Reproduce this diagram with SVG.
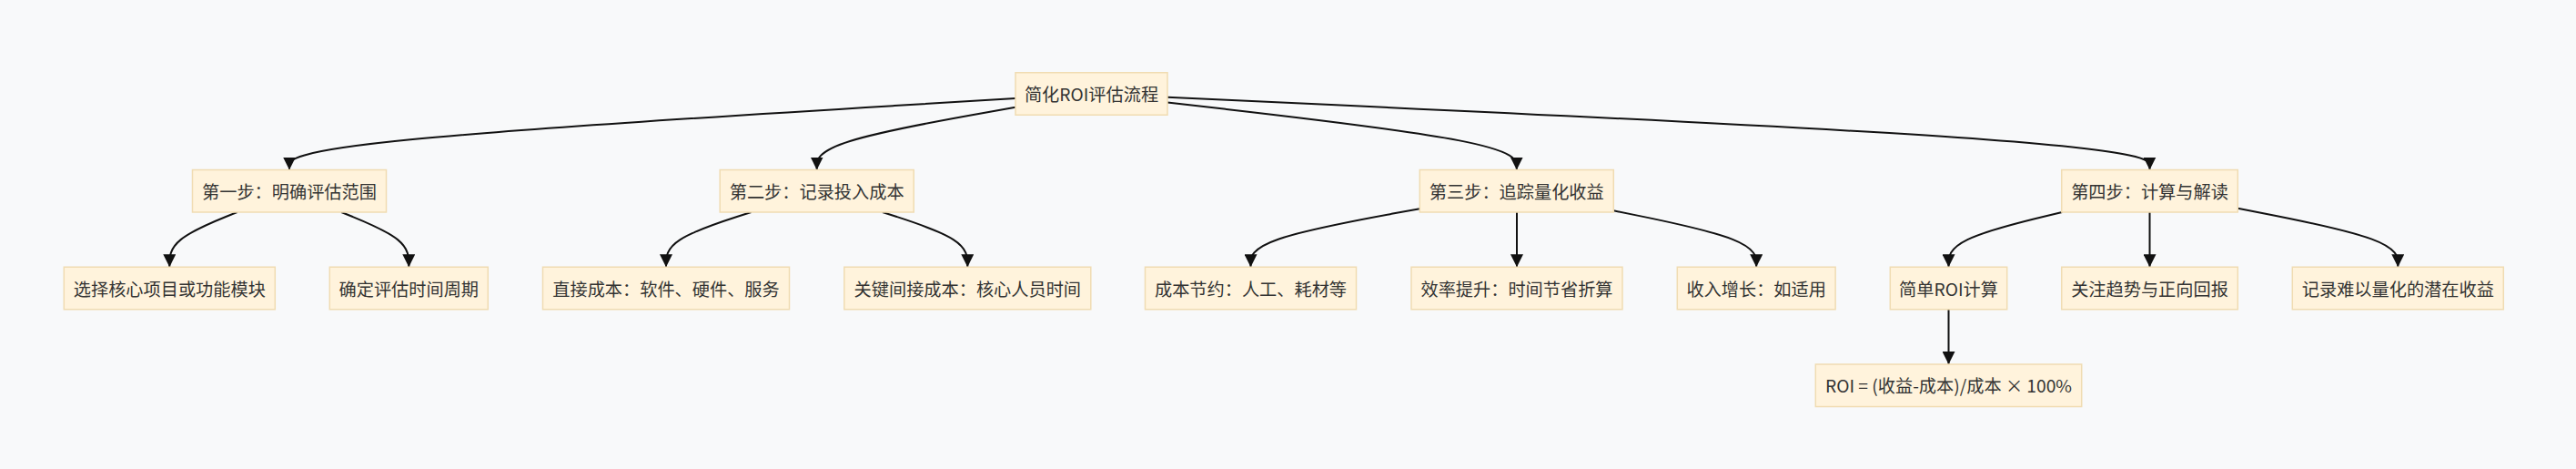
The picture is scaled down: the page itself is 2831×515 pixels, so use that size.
<svg xmlns="http://www.w3.org/2000/svg" width="2831" height="515" viewBox="0 0 2831 515">
<defs>
<style>
.bg{fill:#f8f9fa}
.node rect{fill:#fff3dc;stroke:#f0dcb2;stroke-width:1.5}
.node text{font-family:"Noto Sans CJK SC","Noto Sans",sans-serif;font-size:19.2px;fill:#333;text-anchor:middle;dominant-baseline:central}
.edge{fill:none;stroke:#111;stroke-width:2}
</style>
<marker id="arrow" viewBox="0 0 10 10" refX="10" refY="5" markerUnits="userSpaceOnUse" markerWidth="14" markerHeight="14" orient="auto">
<path d="M0,0 L10,5 L0,10 z" fill="#111"/>
</marker>
</defs>
<rect class="bg" x="0" y="0" width="2831" height="515"/>
<g id="edges">
<path class="edge" marker-end="url(#arrow)" d="M1116,108.06 L983,116.1 C850,124.17 584,140.29 451,153.36 C318,166.43 318,176.47 318,181.48 L318,186.5"/>
<path class="edge" marker-end="url(#arrow)" d="M1116,117.77 L1079.6,124.21 C1043.2,130.65 970.5,143.52 934.1,154.98 C897.7,166.43 897.7,176.47 897.7,181.48 L897.7,186.5"/>
<path class="edge" marker-end="url(#arrow)" d="M1283,112.54 L1347,119.85 C1410.9,127.16 1538.9,141.78 1602.8,154.11 C1666.8,166.43 1666.8,176.47 1666.8,181.48 L1666.8,186.5"/>
<path class="edge" marker-end="url(#arrow)" d="M1283,106.83 L1462.9,115.09 C1642.8,123.35 2002.7,139.88 2182.6,153.16 C2362.5,166.43 2362.5,176.47 2362.5,181.48 L2362.5,186.5"/>
<path class="edge" marker-end="url(#arrow)" d="M260.6,233 L248.2,238.02 C235.8,243.03 211.1,253.07 198.7,263.11 C186.3,273.15 186.3,283.2 186.3,288.23 L186.3,293.25"/>
<path class="edge" marker-end="url(#arrow)" d="M375.2,233 L387.6,238.02 C399.9,243.03 424.6,253.07 437,263.11 C449.3,273.15 449.3,283.2 449.3,288.23 L449.3,293.25"/>
<path class="edge" marker-end="url(#arrow)" d="M825.5,233 L809.9,238.02 C794.3,243.03 763.2,253.07 747.6,263.11 C732,273.15 732,283.2 732,288.23 L732,293.25"/>
<path class="edge" marker-end="url(#arrow)" d="M969.9,233 L985.5,238.02 C1001,243.03 1032.2,253.07 1047.7,263.11 C1063.3,273.15 1063.3,283.2 1063.3,288.23 L1063.3,293.25"/>
<path class="edge" marker-end="url(#arrow)" d="M1560.3,229.19 L1529.3,234.84 C1498.4,240.49 1436.4,251.8 1405.5,262.47 C1374.5,273.15 1374.5,283.2 1374.5,288.23 L1374.5,293.25"/>
<path class="edge" marker-end="url(#arrow)" d="M1667,233 L1667,293.25"/>
<path class="edge" marker-end="url(#arrow)" d="M1773.3,231.32 L1799.5,236.62 C1825.6,241.91 1877.9,252.51 1904.1,262.83 C1930.2,273.15 1930.2,283.2 1930.2,288.23 L1930.2,293.25"/>
<path class="edge" marker-end="url(#arrow)" d="M2266.2,233 L2245.4,238.02 C2224.6,243.03 2183.1,253.07 2162.3,263.11 C2141.5,273.15 2141.5,283.2 2141.5,288.23 L2141.5,293.25"/>
<path class="edge" marker-end="url(#arrow)" d="M2362.5,233 L2362.5,293.25"/>
<path class="edge" marker-end="url(#arrow)" d="M2459.3,228.68 L2488.6,234.42 C2518,240.15 2576.6,251.63 2606,262.39 C2635.3,273.15 2635.3,283.2 2635.3,288.23 L2635.3,293.25"/>
<path class="edge" marker-end="url(#arrow)" d="M2141.5,339.75 L2141.5,400"/>
</g>
<g id="root" class="node"><rect x="1116" y="79.75" width="167" height="46.5"/><text x="1199.5" y="103">简化ROI评估流程</text></g>
<g id="step1" class="node"><rect x="211.5" y="186.5" width="213" height="46.5"/><text x="318" y="209.75">第一步：明确评估范围</text></g>
<g id="step2" class="node"><rect x="791.2" y="186.5" width="213" height="46.5"/><text x="897.7" y="209.75">第二步：记录投入成本</text></g>
<g id="step3" class="node"><rect x="1560.3" y="186.5" width="213" height="46.5"/><text x="1666.8" y="209.75">第三步：追踪量化收益</text></g>
<g id="step4" class="node"><rect x="2265.7" y="186.5" width="193.6" height="46.5"/><text x="2362.5" y="209.75">第四步：计算与解读</text></g>
<g id="s1a" class="node"><rect x="70.3" y="293.25" width="232" height="46.5"/><text x="186.3" y="316.5">选择核心项目或功能模块</text></g>
<g id="s1b" class="node"><rect x="362.3" y="293.25" width="174" height="46.5"/><text x="449.3" y="316.5">确定评估时间周期</text></g>
<g id="s2a" class="node"><rect x="596.5" y="293.25" width="271" height="46.5"/><text x="732" y="316.5">直接成本：软件、硬件、服务</text></g>
<g id="s2b" class="node"><rect x="927.8" y="293.25" width="271" height="46.5"/><text x="1063.3" y="316.5">关键间接成本：核心人员时间</text></g>
<g id="s3a" class="node"><rect x="1258.5" y="293.25" width="232" height="46.5"/><text x="1374.5" y="316.5">成本节约：人工、耗材等</text></g>
<g id="s3b" class="node"><rect x="1551" y="293.25" width="232" height="46.5"/><text x="1667" y="316.5">效率提升：时间节省折算</text></g>
<g id="s3c" class="node"><rect x="1843.3" y="293.25" width="173.8" height="46.5"/><text x="1930.2" y="316.5">收入增长：如适用</text></g>
<g id="s4a" class="node"><rect x="2077.3" y="293.25" width="128.4" height="46.5"/><text x="2141.5" y="316.5">简单ROI计算</text></g>
<g id="s4b" class="node"><rect x="2265.7" y="293.25" width="193.6" height="46.5"/><text x="2362.5" y="316.5">关注趋势与正向回报</text></g>
<g id="s4c" class="node"><rect x="2519.3" y="293.25" width="232" height="46.5"/><text x="2635.3" y="316.5">记录难以量化的潜在收益</text></g>
<g id="formula" class="node"><rect x="1995.3" y="400" width="292.4" height="46.5"/><text x="2141.5" y="423.25">ROI = (收益-成本)/成本 × 100%</text></g>
</svg>
